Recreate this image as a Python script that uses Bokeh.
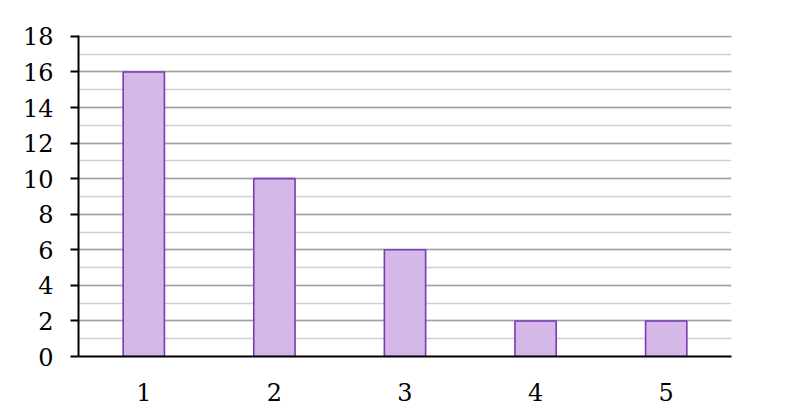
from bokeh.plotting import figure
from bokeh.models import Range1d, FactorRange, SingleIntervalTicker, ColumnDataSource
from bokeh.embed import file_html
from bokeh.resources import INLINE

categories = ["1", "2", "3", "4", "5"]
values = [16, 10, 6, 2, 2]

FONT = "DejaVu Serif"

p = figure(width=800, height=409, output_backend="svg", toolbar_location=None,
           x_range=FactorRange(*categories, range_padding=0),
           y_range=Range1d(0, 18.05),
           min_border_left=78, min_border_right=69, min_border_top=35, min_border_bottom=53)
p.outline_line_color = None
p.background_fill_color = "white"
p.border_fill_color = "white"

src = ColumnDataSource(dict(x=categories, top=values))
p.vbar(x="x", top="top", bottom=0, width=0.316, source=src,
       fill_color="#D4B8E8", line_color="#7B39B5", line_width=1.6)

# y axis
p.yaxis.ticker = SingleIntervalTicker(interval=2, num_minor_ticks=2)
p.yaxis.axis_line_color = "black"
p.yaxis.axis_line_width = 2
p.yaxis.major_tick_line_color = "black"
p.yaxis.major_tick_line_width = 2
p.yaxis.major_tick_out = 8
p.yaxis.major_tick_in = 0
p.yaxis.minor_tick_out = 0
p.yaxis.minor_tick_in = 0
p.yaxis.major_label_standoff = 17
p.yaxis.major_label_text_font = FONT
p.yaxis.major_label_text_font_size = "24px"
p.yaxis.major_label_text_color = "black"

# x axis
p.xaxis.axis_line_color = "black"
p.xaxis.axis_line_width = 2
p.xaxis.major_tick_out = 0
p.xaxis.major_tick_in = 0
p.xaxis.minor_tick_out = 0
p.xaxis.major_label_standoff = 26
p.xaxis.major_label_text_font = FONT
p.xaxis.major_label_text_font_size = "24px"
p.xaxis.major_label_text_color = "black"

# grids
p.xgrid.grid_line_color = None
p.ygrid.grid_line_color = "#A0A0A0"
p.ygrid.grid_line_width = 1.4
p.ygrid.minor_grid_line_color = "#CFCFCF"
p.ygrid.minor_grid_line_width = 1.4

open("out.html", "w").write(file_html(p, INLINE))
